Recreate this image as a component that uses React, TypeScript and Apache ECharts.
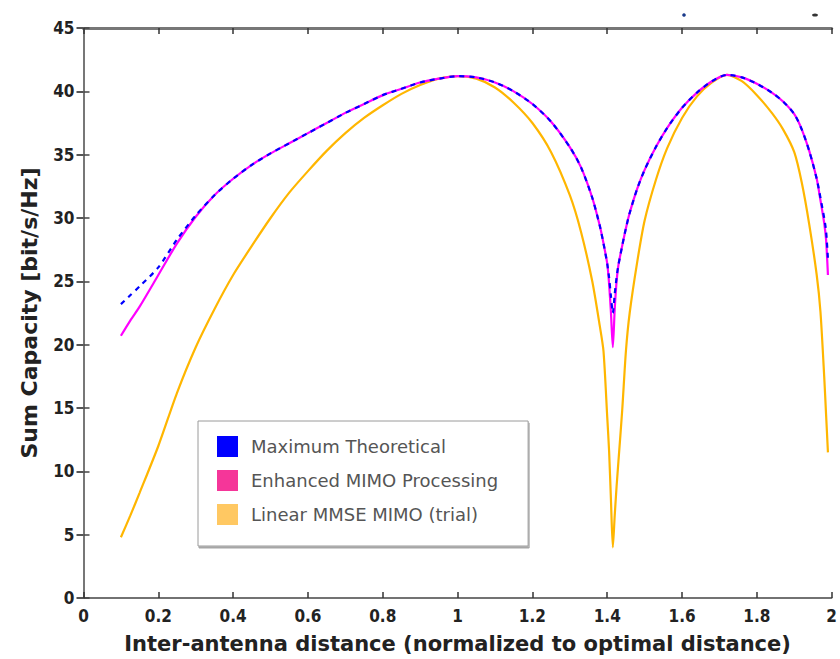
import React, { useEffect, useRef } from "react";
import * as echarts from "echarts";

const xs = [0.1, 0.125, 0.15, 0.2, 0.25, 0.3, 0.35, 0.4, 0.45, 0.5, 0.55, 0.6, 0.65, 0.7, 0.75, 0.8, 0.85, 0.9, 0.95, 1.0, 1.05, 1.1, 1.15, 1.2, 1.25, 1.3, 1.33, 1.36, 1.38, 1.39, 1.4, 1.405, 1.41, 1.415, 1.42, 1.425, 1.43, 1.44, 1.45, 1.46, 1.48, 1.5, 1.53, 1.56, 1.6, 1.64, 1.68, 1.72, 1.76, 1.8, 1.84, 1.87, 1.9, 1.92, 1.94, 1.96, 1.97, 1.98, 1.985, 1.99];

const maxTheoretical = [23.2, 23.9, 24.6, 26.1, 28.3, 30.2, 31.8, 33.1, 34.2, 35.1, 35.9, 36.7, 37.5, 38.3, 39.0, 39.7, 40.2, 40.7, 41.0, 41.2, 41.1, 40.7, 40.0, 39.0, 37.6, 35.6, 34.0, 31.6, 29.4, 28.0, 26.4, 25.3, 23.8, 22.5, 24.0, 25.3, 26.3, 27.8, 29.2, 30.4, 32.3, 33.8, 35.6, 37.1, 38.7, 39.9, 40.8, 41.3, 41.1, 40.6, 39.9, 39.2, 38.2, 37.0, 35.3, 33.1, 31.6, 30.0, 29.0, 26.8];

const enhancedMimo = [20.7, 21.9, 23.0, 25.5, 28.0, 30.1, 31.8, 33.1, 34.2, 35.1, 35.9, 36.7, 37.5, 38.3, 39.0, 39.7, 40.2, 40.7, 41.0, 41.2, 41.1, 40.7, 40.0, 39.0, 37.6, 35.6, 34.0, 31.6, 29.4, 28.0, 26.4, 24.8, 22.5, 19.8, 22.8, 25.0, 26.3, 27.8, 29.2, 30.4, 32.3, 33.8, 35.6, 37.1, 38.7, 39.9, 40.8, 41.3, 41.1, 40.6, 39.9, 39.2, 38.2, 37.0, 35.3, 33.1, 31.4, 29.6, 28.3, 25.5];

const linearMmse = [4.8, 6.5, 8.3, 12.0, 16.2, 19.8, 22.8, 25.5, 27.8, 30.0, 32.0, 33.7, 35.3, 36.7, 37.9, 38.9, 39.8, 40.5, 41.0, 41.2, 41.0, 40.3, 39.1, 37.5, 35.2, 31.8, 28.9, 25.0, 21.5, 19.5, 14.3, 11.6, 7.7, 4.0, 6.5, 8.8, 10.8, 14.8, 19.5, 22.5, 26.5, 29.8, 33.0, 35.5, 37.9, 39.6, 40.7, 41.3, 40.8, 39.7, 38.3, 37.0, 35.2, 32.8, 29.5, 25.5, 22.6, 17.5, 14.5, 11.5];

const seriesNames = ["Maximum Theoretical", "Enhanced MIMO Processing", "Linear MMSE MIMO (trial)"];
const xTicks = [0, 0.2, 0.4, 0.6, 0.8, 1, 1.2, 1.4, 1.6, 1.8, 2];
const yTicks = [0, 5, 10, 15, 20, 25, 30, 35, 40, 45];

const pair = (ys: number[]) => xs.map((x, i) => [x, ys[i]]);

export default function App() {
  const ref = useRef<HTMLDivElement>(null);
  useEffect(() => {
    if (!ref.current) return;
    const chart = echarts.init(ref.current, null, { renderer: "svg" });
    const labelFont = "DejaVu Sans Condensed";
    chart.setOption({
      animation: false,
      backgroundColor: "#ffffff",
      grid: { left: 83.5, top: 28, right: 7, bottom: 61, containLabel: false },
      legend: {
        orient: "vertical",
        left: 198,
        top: 421,
        padding: [15, 30, 21, 19],
        itemGap: 13,
        itemWidth: 21,
        itemHeight: 21,
        icon: "rect",
        borderColor: "#9a9a9a",
        borderWidth: 1,
        backgroundColor: "#ffffff",
        shadowColor: "rgba(0,0,0,0.35)",
        shadowOffsetX: 1,
        shadowOffsetY: 2,
        shadowBlur: 0,
        textStyle: {
          fontFamily: "DejaVu Sans",
          fontSize: 18,
          color: "#555555",
          padding: [0, 0, 0, 8],
        },
        data: [
          { name: seriesNames[0], itemStyle: { color: "#0000ff" } },
          { name: seriesNames[1], itemStyle: { color: "#f53699" } },
          { name: seriesNames[2], itemStyle: { color: "#ffc862" } },
        ],
      },
      xAxis: [
        {
          type: "value",
          min: 0,
          max: 2,
          interval: 0.2,
          name: "Inter-antenna distance (normalized to optimal distance)",
          nameLocation: "middle",
          nameGap: 35,
          nameTextStyle: { fontFamily: "DejaVu Sans", fontWeight: "bold", fontSize: 21, color: "#222" },
          axisLine: { show: true, onZero: false, lineStyle: { color: "#444", width: 1.5 } },
          axisTick: { show: true, inside: true, length: 6, lineStyle: { color: "#333", width: 1.5 } },
          axisLabel: {
            fontFamily: labelFont,
            fontWeight: "bold",
            fontSize: 17,
            color: "#222",
            margin: 9,
            formatter: (v: number) => {
              const t = xTicks.find((k) => Math.abs(k - v) < 1e-6);
              return t === undefined ? "" : String(t);
            },
          },
          splitLine: { show: false },
        },
        {
          type: "value",
          position: "top",
          min: 0,
          max: 2,
          interval: 0.2,
          axisLine: { show: true, onZero: false, lineStyle: { color: "#777", width: 3 } },
          axisTick: { show: true, inside: true, length: 6, lineStyle: { color: "#333", width: 1.5 } },
          axisLabel: { show: false },
          splitLine: { show: false },
        },
      ],
      yAxis: [
        {
          type: "value",
          min: 0,
          max: 45,
          interval: 5,
          name: "Sum Capacity [bit/s/Hz]",
          nameLocation: "middle",
          nameGap: 43,
          nameRotate: 90,
          nameTextStyle: { fontFamily: "DejaVu Sans", fontWeight: "bold", fontSize: 22, color: "#222" },
          axisLine: { show: true, onZero: false, lineStyle: { color: "#777", width: 2 } },
          axisTick: { show: true, inside: true, length: 6, lineStyle: { color: "#444", width: 1.5 } },
          axisLabel: {
            fontFamily: labelFont,
            fontWeight: "bold",
            fontSize: 17,
            color: "#222",
            margin: 9,
            formatter: (v: number) => (yTicks.includes(v) ? String(v) : ""),
          },
          splitLine: { show: false },
        },
        {
          type: "value",
          position: "right",
          min: 0,
          max: 45,
          interval: 5,
          axisLine: { show: false },
          axisTick: { show: true, inside: true, length: 7, lineStyle: { color: "#555", width: 2 } },
          axisLabel: { show: false },
          splitLine: { show: false },
        },
      ],
      series: [
        {
          name: seriesNames[2],
          type: "line",
          data: pair(linearMmse),
          showSymbol: false,
          symbol: "none",
          smooth: 0.25,
          color: "#ffc862",
          lineStyle: { color: "#ffb600", width: 2.2 },
          z: 2,
        },
        {
          name: seriesNames[1],
          type: "line",
          data: pair(enhancedMimo),
          showSymbol: false,
          symbol: "none",
          smooth: 0.25,
          color: "#f53699",
          lineStyle: { color: "#ff00ff", width: 2.2 },
          z: 3,
        },
        {
          name: seriesNames[0],
          type: "line",
          data: pair(maxTheoretical),
          showSymbol: false,
          symbol: "none",
          smooth: 0.25,
          color: "#0000ff",
          lineStyle: { color: "#0000ff", width: 2.2, type: [5, 5] },
          z: 4,
        },
      ],
      graphic: [
        { type: "circle", shape: { cx: 684, cy: 15, r: 1.8 }, style: { fill: "#1a3a8a" } },
        { type: "ellipse", shape: { cx: 815, cy: 15, rx: 3, ry: 1.6 }, style: { fill: "#333" } },
      ],
    });
    return () => chart.dispose();
  }, []);
  return <div ref={ref} style={{ width: 840, height: 659, position: "absolute", left: 0, top: 0 }} />;
}
